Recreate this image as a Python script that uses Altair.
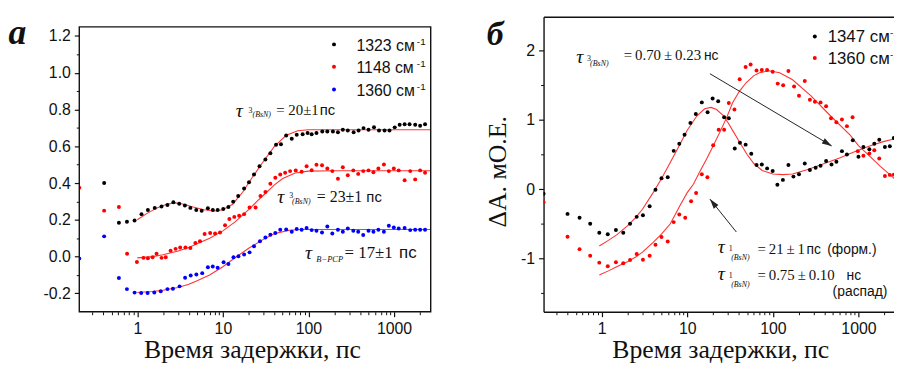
import altair as alt
import pandas as pd

SANS = "Liberation Sans"
SERIF = "Liberation Serif"
TH = "\u2009"  # thin space

# ---------------- panel "a" (left) ----------------
a_names = ["a1323", "a1148", "a1360"]
a_colors = ["#000000", "#ff0000", "#0000ff"]

a_k_x = [0.41, 0.61, 0.757, 0.93, 1.12, 1.33, 1.60, 1.92, 2.25, 2.64, 3.09, 3.60, 4.17, 4.89, 5.65,
         6.68, 7.63, 8.69, 10.1, 11.6, 13.2, 15.1, 17.7, 20.2, 23.1, 26.8, 31.4, 35.9, 41.8, 47.7,
         54.9, 63.8, 72.9, 85.5, 97.7, 109, 124, 145, 166, 193, 221, 252, 288, 337, 385, 440, 503,
         583, 667, 775, 885, 1018, 1163, 1329, 1518, 1765, 2016, 2303]
a_k_y = [0.40, 0.184, 0.19, 0.196, 0.231, 0.253, 0.265, 0.272, 0.281, 0.296, 0.287, 0.278, 0.265, 0.254, 0.249,
         0.263, 0.254, 0.254, 0.259, 0.27, 0.299, 0.33, 0.371, 0.405, 0.447, 0.492, 0.528, 0.562, 0.609, 0.611,
         0.659, 0.641, 0.663, 0.666, 0.672, 0.666, 0.672, 0.681, 0.681, 0.681, 0.677, 0.69, 0.686, 0.677, 0.686,
         0.699, 0.69, 0.704, 0.686, 0.686, 0.686, 0.703, 0.717, 0.72, 0.72, 0.717, 0.712, 0.72]

a_r_x = [0.21, 0.41, 0.61, 0.76, 0.99, 1.18, 1.33, 1.51, 1.68, 1.92, 2.15, 2.45, 2.80, 3.17, 3.65, 4.17, 4.77, 5.40,
         6.12, 7.10, 8.11, 9.26, 10.6, 11.9, 13.6, 15.5, 17.7, 20.5, 24.1, 27.5, 31.4, 35.9, 41.0, 46.8, 53.4, 61.0,
         71.0, 83.2, 95.1, 109, 124, 144, 166, 190, 221, 252, 288, 334, 381, 436, 503, 574, 656, 761, 869, 993,
         1133, 1329, 1545, 1765, 2016, 2303]
a_r_y = [0.375, 0.25, 0.27, 0.015, -0.03, -0.007, -0.009, -0.004, 0.015, -0.007, -0.004, 0.032, 0.042, 0.05, 0.05,
         0.047, 0.074, 0.083, 0.123, 0.128, 0.126, 0.131, 0.17, 0.204, 0.216, 0.222, 0.231, 0.267, 0.267, 0.33, 0.351,
         0.396, 0.429, 0.447, 0.456, 0.465, 0.469, 0.461, 0.492, 0.47, 0.50, 0.497, 0.479, 0.465, 0.423, 0.486, 0.442,
         0.469, 0.45, 0.465, 0.469, 0.459, 0.479, 0.501, 0.465, 0.479, 0.469, 0.415, 0.465, 0.42, 0.469, 0.456]

a_b_x = [0.21, 0.41, 0.61, 0.757, 0.93, 1.11, 1.32, 1.58, 1.88, 2.25, 2.61, 3.12, 3.62, 4.21, 4.90, 5.74,
         6.68, 7.62, 8.69, 10.2, 11.6, 13.3, 15.2, 17.7, 20.5, 23.1, 27.1, 31.4, 35.9, 41.0, 46.8, 54.9, 63.8,
         72.9, 83.2, 95.1, 109, 124, 144, 166, 190, 221, 252, 288, 334, 381, 436, 503, 574, 656, 761, 869, 993,
         1133, 1329, 1545, 1765, 2016, 2303]
a_b_y = [-0.01, 0.11, -0.117, -0.177, -0.196, -0.198, -0.198, -0.195, -0.189, -0.177, -0.175, -0.162, -0.115,
         -0.103, -0.097, -0.09, -0.058, -0.054, -0.061, -0.031, -0.04, -0.004, 0.002, 0.011, 0.023, 0.056, 0.083,
         0.104, 0.119, 0.128, 0.146, 0.148, 0.135, 0.15, 0.146, 0.155, 0.144, 0.141, 0.131, 0.164, 0.126, 0.146,
         0.135, 0.153, 0.141, 0.135, 0.117, 0.141, 0.135, 0.146, 0.135, 0.168, 0.158, 0.153, 0.155, 0.144, 0.146,
         0.146, 0.146]

a_fit_k_x = [1, 1.3, 1.7, 2.2, 2.8, 3.5, 4.5, 6, 8, 10, 13, 17, 22, 30, 40, 55, 75, 100, 200, 500, 1000, 2680]
a_fit_k_y = [0.20, 0.235, 0.265, 0.285, 0.292, 0.285, 0.27, 0.255, 0.248, 0.255, 0.285, 0.35, 0.43, 0.52, 0.60,
             0.66, 0.685, 0.69, 0.69, 0.69, 0.69, 0.69]
a_fit_r_x = [1, 1.5, 2, 3, 4, 5, 7, 10, 14, 20, 25, 30, 40, 50, 70, 100, 200, 500, 1000, 2680]
a_fit_r_y = [-0.007, 0.0, 0.01, 0.03, 0.05, 0.07, 0.10, 0.14, 0.19, 0.255, 0.30, 0.335, 0.39, 0.425, 0.455,
             0.465, 0.467, 0.467, 0.467, 0.467]
a_fit_b_x = [1, 1.5, 2, 3, 4, 5, 7, 10, 14, 20, 30, 40, 60, 80, 100, 200, 500, 1000, 2680]
a_fit_b_y = [-0.195, -0.19, -0.183, -0.168, -0.15, -0.132, -0.1, -0.055, -0.005, 0.045, 0.095, 0.125, 0.143,
             0.147, 0.147, 0.147, 0.147, 0.147, 0.147]

a_x_major = [1, 10, 100, 1000]
a_x_minor = [0.3, 0.4, 0.5, 0.6, 0.7, 0.8, 0.9, 2, 3, 4, 5, 6, 7, 8, 9, 20, 30, 40, 50, 60, 70, 80, 90,
             200, 300, 400, 500, 600, 700, 800, 900, 2000]
a_y_major = [-0.2, 0.0, 0.2, 0.4, 0.6, 0.8, 1.0, 1.2]
a_y_minor = [-0.1, 0.1, 0.3, 0.5, 0.7, 0.9, 1.1]
a_x_range = [0.21, 2680]       # frame of panel a
a_y_range = [-0.3, 1.25]

# ---------------- panel "б" (right) ----------------
b_names = ["b1347", "b1360"]
b_colors = ["#000000", "#ff0000"]

b_k_x = [0.21, 0.40, 0.553, 0.736, 0.94, 1.18, 1.47, 1.79, 2.15, 2.57, 3.04, 3.64, 4.26, 5.01, 5.92,
         6.95, 8.08, 9.31, 10.9, 12.6, 14.8, 17.3, 19.8, 23.0, 27.0, 30.6, 35.9, 41.3, 48.1, 56.0,
         64.5, 74.3, 85.7, 99.5, 113, 131, 152, 174, 202, 236, 271, 316, 361, 419, 484,
         552, 641, 733, 859, 1000, 1142, 1340, 1531, 1750, 2036, 2325, 2586]
b_k_y = [-0.066, -0.357, -0.414, -0.5, -0.629, -0.652, -0.59, -0.629, -0.5, -0.4, -0.376, -0.247, -0.009, 0.157,
         0.171, 0.553, 0.657, 0.786, 0.957, 1.086, 1.253, 1.11, 1.31, 1.27, 1.037, 1.023, 0.586, 0.671, 0.643,
         0.51, 0.349, 0.357, 0.30, 0.263, 0.063, 0.134, 0.349, 0.181, 0.214, 0.371, 0.277, 0.31, 0.339, 0.406,
         0.357, 0.396, 0.549, 0.50, 0.706, 0.467, 0.61, 0.577, 0.657, 0.714, 0.61, 0.62, 0.739]

b_r_x = [0.21, 0.40, 0.553, 0.736, 0.94, 1.18, 1.47, 1.79, 2.15, 2.57, 3.04, 3.64, 4.26, 5.01, 5.92,
         6.95, 8.08, 9.48, 11.1, 12.7, 14.8, 17.2, 20.1, 23.3, 27.0, 30.6, 35.6, 41.0, 48.1, 55.0,
         64.5, 74.3, 85.7, 99.5, 114, 132, 152, 177, 202, 236, 271, 310, 361, 419, 478,
         552, 641, 733, 853, 982, 1142, 1340, 1531, 1750, 2036, 2325, 2586]
b_r_y = [-0.19, -0.686, -0.866, -0.961, -1.061, -1.114, -1.057, -1.07, -1.023, -0.937, -1.019, -0.961, -0.804,
         -0.69, -0.757, -0.476, -0.366, -0.414, -0.176, -0.057, 0.214, 0.171, 0.634, 0.857, 0.857, 1.243, 1.149,
         1.586, 1.763, 1.80, 1.714, 1.72, 1.72, 1.696, 1.524, 1.50, 1.706, 1.481, 1.349, 1.563, 1.291, 1.263,
         1.253, 1.196, 1.024, 0.967, 1.006, 0.91, 1.039, 0.549, 0.481, 0.514, 0.563, 0.443, 0.191, 0.206, 0.21]

b_fit_k_x = [0.94, 1.2, 1.5, 2, 2.5, 3, 4, 5, 6, 8, 10, 13, 16, 19, 22, 26, 30, 35, 40, 50, 60, 75, 100, 130,
             170, 250, 400, 600, 900, 1400, 2000, 2700]
b_fit_k_y = [-0.82, -0.74, -0.66, -0.53, -0.41, -0.29, -0.05, 0.15, 0.33, 0.62, 0.85, 1.06, 1.16, 1.18, 1.15,
             1.07, 0.96, 0.82, 0.70, 0.50, 0.37, 0.27, 0.22, 0.21, 0.22, 0.28, 0.37, 0.45, 0.54, 0.63, 0.69, 0.73]
b_fit_r_x = [0.94, 1.2, 1.5, 2, 2.5, 3, 4, 5, 6.35, 8.3, 10, 11.8, 14, 16.9, 20, 24, 29, 34, 41, 49, 60, 70, 90,
             120, 170, 277, 470, 800, 1000, 1370, 1800, 2330, 2700]
b_fit_r_y = [-1.24, -1.18, -1.12, -1.05, -0.98, -0.91, -0.77, -0.65, -0.50, -0.23, -0.05, 0.07, 0.25, 0.44, 0.62,
             0.82, 1.04, 1.25, 1.42, 1.54, 1.64, 1.68, 1.71, 1.68, 1.58, 1.35, 1.06, 0.78, 0.63, 0.47, 0.33,
             0.21, 0.14]

b_x_major = [1, 10, 100, 1000]
b_x_minor = [0.3, 0.4, 0.5, 0.6, 0.7, 0.8, 0.9, 2, 3, 4, 5, 6, 7, 8, 9, 20, 30, 40, 50, 60, 70, 80, 90,
             200, 300, 400, 500, 600, 700, 800, 900, 2000]
b_y_major = [-1, 0, 1, 2]
b_y_minor = [-1.5, -0.5, 0.5, 1.5]

# arrows of panel б (start x, start y, end x, end y, head angle)
b_arrow_x = [18.4, 37.5]
b_arrow_y = [1.667, -0.619]
b_arrow_x2 = [488, 18.4]
b_arrow_y2 = [0.624, -0.143]
b_arrow_angle = [30.7, 231.3]

ONE = pd.DataFrame({"k": [0]})
LINE_RED = "#ff3434"
INK = "#111111"


def long_df(names, xs_list, ys_list):
    rows = []
    for n, xs, ys in zip(names, xs_list, ys_list):
        rows += [{"x": x, "y": y, "s": n} for x, y in zip(xs, ys)]
    return pd.DataFrame(rows)


def major_axis(orient, values, expr, domain=True):
    return alt.Axis(orient=orient, values=values, labelExpr=expr, tickSize=5, tickWidth=1.2,
                    tickColor="#111", domain=domain, domainColor="#111", domainWidth=1.4,
                    labelFont=SANS, labelFontSize=16, labelColor="#111", labelPadding=4,
                    grid=False, title=None, labelFlush=False, labelOverlap=False)


def minor_axis(orient, values):
    return alt.Axis(orient=orient, values=values, tickSize=3, tickWidth=1, tickColor="#111",
                    labels=False, domain=False, grid=False, title=None)


def frame_axis(orient):
    return alt.Axis(orient=orient, ticks=False, labels=False, domain=True, domainColor="#111",
                    domainWidth=1.4, grid=False, title=None)


def txt(t, x, y, size, font=SERIF, style="normal", weight="normal", align="left",
        baseline="alphabetic", angle=0, clip=False):
    return alt.Chart(ONE).mark_text(text=t, font=font, fontSize=size, fontStyle=style,
                                    fontWeight=weight, align=align, baseline=baseline,
                                    angle=angle, color=INK, clip=clip).encode(
        x=alt.value(x), y=alt.value(y))


def dot(x, y, color, clip=False):
    return alt.Chart(ONE).mark_circle(size=16, opacity=1, color=color, clip=clip).encode(
        x=alt.value(x), y=alt.value(y))


X_EXPR = "format(datum.value, 'd')"

# ---------------- build panel a ----------------
# the view extends a little above the frame so that the frame top sits lower than panel б's
xa = alt.Scale(type="log", domain=a_x_range, nice=False)
ya = alt.Scale(domain=[-0.3, 1.305], nice=False, zero=False)
D = 10.25  # vertical pixel offset of the frame of panel a inside its view

a_pts = long_df(a_names, [a_k_x, a_r_x, a_b_x], [a_k_y, a_r_y, a_b_y])
a_fit = long_df(a_names, [a_fit_k_x, a_fit_r_x, a_fit_b_x], [a_fit_k_y, a_fit_r_y, a_fit_b_y])
a_frame = pd.DataFrame({"x": [a_x_range[0]], "x2": [a_x_range[1]],
                        "y": [a_y_range[0]], "y2": [a_y_range[1]]})

a_fit_layer = alt.Chart(a_fit).mark_line(color=LINE_RED, strokeWidth=1.1, clip=True).encode(
    x=alt.X("x:Q", scale=xa, axis=minor_axis("bottom", a_x_minor)),
    y=alt.Y("y:Q", scale=ya, axis=minor_axis("left", a_y_minor)),
    detail="s:N")
a_pts_layer = alt.Chart(a_pts).mark_circle(size=16, opacity=1, clip=True).encode(
    x=alt.X("x:Q", scale=xa, axis=major_axis("bottom", a_x_major, X_EXPR, domain=False)),
    y=alt.Y("y:Q", scale=ya, axis=major_axis(
        "left", a_y_major,
        "datum.value < 0 ? '-' + format(-datum.value, '.1f') : format(datum.value, '.1f')",
        domain=False)),
    color=alt.Color("s:N", scale=alt.Scale(domain=a_names, range=a_colors), legend=None))
a_frame_layer = alt.Chart(a_frame).mark_rect(fill="transparent", stroke="#111", strokeWidth=1.4).encode(
    x=alt.X("x:Q", scale=xa, axis=None), x2="x2:Q",
    y=alt.Y("y:Q", scale=ya, axis=None), y2="y2:Q")

a_texts = [
    txt("a", -62.5, 17.7 + D, 36, style="italic", weight="bold", align="center"),
    dot(257.3, 17.7 + D, a_colors[0]), dot(257.3, 40.3 + D, a_colors[1]), dot(257.3, 63.3 + D, a_colors[2]),
    txt("1323 см", 280, 24 + D, 16, font=SANS), txt("-1", 341, 18 + D, 10, font=SANS),
    txt("1148 см", 280, 46.5 + D, 16, font=SANS), txt("-1", 341, 40.5 + D, 10, font=SANS),
    txt("1360 см", 280, 69.5 + D, 16, font=SANS), txt("-1", 341, 63.5 + D, 10, font=SANS),
    # tau_3(BsN) = 20 ± 1 пс
    txt("τ", 158, 91 + D, 20, style="italic"), txt("3", 171, 86.5 + D, 8),
    txt("(BsN)", 175, 91 + D, 8, style="italic"),
    txt("= 20±1", 199, 89.5 + D, 15), txt("пс", 243, 89.5 + D, 15, font=SANS),
    # tau_3(BsN) = 23 ± 1 пс
    txt("τ", 200, 177.5 + D, 20, style="italic"), txt("3", 212, 173 + D, 8),
    txt("(BsN)", 215, 178.5 + D, 8, style="italic"),
    txt("= 23±1", 240, 177 + D, 16), txt("пс", 290, 177 + D, 15, font=SANS),
    # tau_B-PCP = 17 ± 1 пс
    txt("τ", 228, 234.5 + D, 20, style="italic"), txt("B−PCP", 239.5, 237.5 + D, 8.5, style="italic"),
    txt("= 17±1", 268, 233.5 + D, 17), txt("пс", 323, 233.5 + D, 17, font=SANS),
    txt("Время задержки, пс", 175, 334 + D, 26, align="center"),
]

left = alt.layer(a_fit_layer, a_pts_layer, a_frame_layer, *a_texts).properties(
    width=355, height=298).resolve_axis(x="independent", y="independent")

# ---------------- build panel б ----------------
xb = alt.Scale(type="log", domain=[0.21, 2600], nice=False)
yb = alt.Scale(domain=[-1.77, 2.49], nice=False, zero=False)

b_pts = long_df(b_names, [b_k_x, b_r_x], [b_k_y, b_r_y])
b_fit = long_df(b_names, [b_fit_k_x, b_fit_r_x], [b_fit_k_y, b_fit_r_y])
b_arrows = pd.DataFrame({"x": b_arrow_x, "y": b_arrow_y, "x2": b_arrow_x2, "y2": b_arrow_y2,
                         "ang": b_arrow_angle})

b_fit_layer = alt.Chart(b_fit).mark_line(color=LINE_RED, strokeWidth=1.1, clip=True).encode(
    x=alt.X("x:Q", scale=xb, axis=minor_axis("bottom", b_x_minor)),
    y=alt.Y("y:Q", scale=yb, axis=minor_axis("left", b_y_minor)),
    detail="s:N")
b_pts_layer = alt.Chart(b_pts).mark_circle(size=16, opacity=1, clip=True).encode(
    x=alt.X("x:Q", scale=xb, axis=major_axis("bottom", b_x_major, X_EXPR)),
    y=alt.Y("y:Q", scale=yb, axis=major_axis(
        "left", b_y_major,
        "datum.value < 0 ? '-' + format(-datum.value, 'd') : format(datum.value, 'd')")),
    color=alt.Color("s:N", scale=alt.Scale(domain=b_names, range=b_colors), legend=None))
b_arrow_lines = alt.Chart(b_arrows).mark_rule(color="#222", strokeWidth=1).encode(
    x=alt.X("x:Q", scale=xb, axis=frame_axis("top")),
    y=alt.Y("y:Q", scale=yb, axis=None),
    x2="x2:Q", y2="y2:Q")
b_arrow_heads = alt.Chart(b_arrows).mark_point(
    shape="M0,0L-1,-0.3L-1,0.3Z", filled=True, size=400, color="#222", opacity=1).encode(
    x=alt.X("x2:Q", scale=xb, axis=None),
    y=alt.Y("y2:Q", scale=yb, axis=None),
    angle=alt.Angle("ang:Q", scale=None))

b_texts = [
    txt("б", -49, 28.7, 34, style="italic", weight="bold", align="center"),
    txt("ΔA. мО.Е.", -46, 156.7, 26, align="center", baseline="middle", angle=270),
    dot(274, 20, b_colors[0], clip=True), dot(274, 41.7, b_colors[1], clip=True),
    txt("1347 см", 287, 25.7, 17, font=SANS, clip=True), txt("-1", 350, 19.5, 10, font=SANS, clip=True),
    txt("1360 см", 287, 47.5, 17, font=SANS, clip=True), txt("-1", 350, 41.3, 10, font=SANS, clip=True),
    # tau_3(BsN) = 0.70 ± 0.23 нс
    txt("τ", 33, 46.7, 20, style="italic"), txt("3", 44, 44.7, 8), txt("(BsN)", 47, 49.7, 8, style="italic"),
    txt("=" + TH + "0.70" + TH + "±" + TH + "0.23", 81, 44.2, 15), txt("нс", 162, 44.2, 14, font=SANS),
    # tau_1(BsN) = 21 ± 1 пс (форм.)
    txt("τ", 176, 238.4, 20, style="italic"), txt("1", 187, 236.7, 8),
    txt("(BsN)", 189.5, 245.7, 8, style="italic"),
    txt("=" + TH + "21" + TH + "±" + TH + "1", 216, 239.4, 15), txt("пс", 265.5, 239.4, 14, font=SANS),
    txt("(форм.)", 286.5, 239.4, 14, font=SANS),
    # tau_1(BsN) = 0.75 ± 0.10 нс (распад)
    txt("τ", 176, 265.7, 20, style="italic"), txt("1", 187, 264, 8),
    txt("(BsN)", 189.5, 273, 8, style="italic"),
    txt("=" + TH + "0.75" + TH + "±" + TH + "0.10", 216, 265.7, 15), txt("нс", 306, 265.7, 14, font=SANS),
    txt("(распад)", 292, 281.7, 14, font=SANS),
    txt("Время задержки, пс", 179, 344.5, 26, align="center"),
]

right = alt.layer(b_fit_layer, b_pts_layer, b_arrow_lines, b_arrow_heads, *b_texts).properties(
    width=354, height=298).resolve_axis(x="independent", y="independent")

chart = alt.hconcat(left, right, spacing=54).properties(
    padding={"left": 0, "top": 5, "right": 0, "bottom": 0},
    background="white",
).configure_view(strokeWidth=0)

chart.save("out.html", embed_options={"renderer": "svg", "actions": False})
